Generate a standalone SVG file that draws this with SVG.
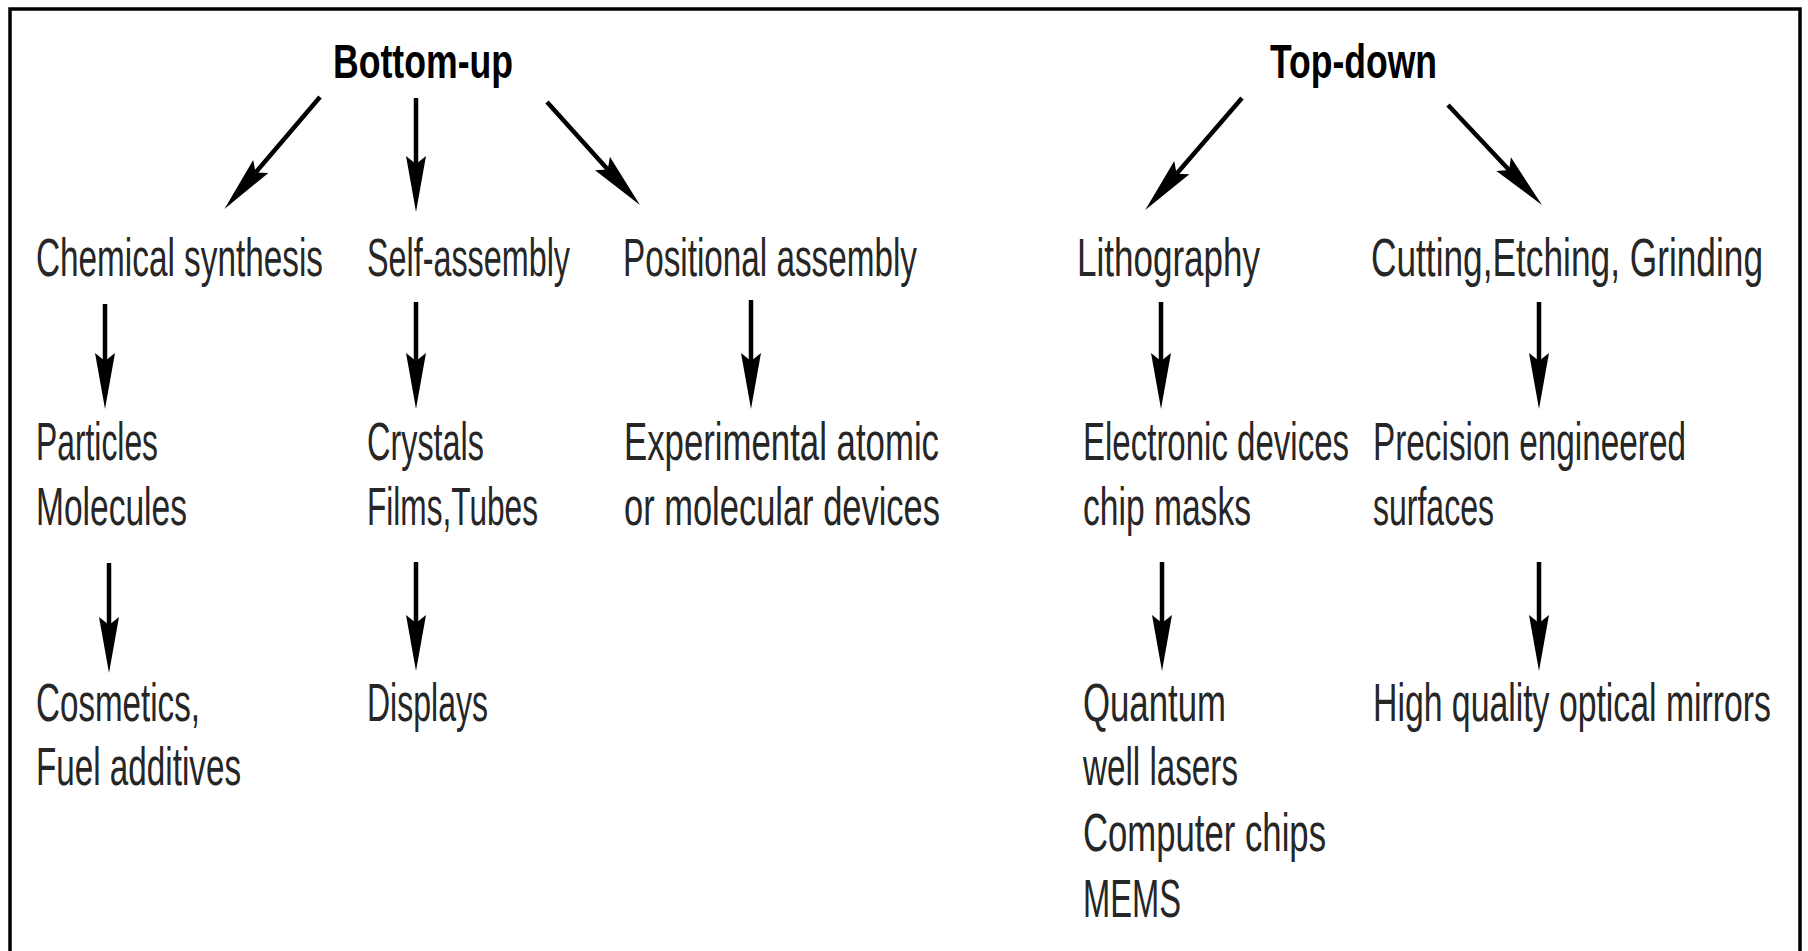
<svg xmlns="http://www.w3.org/2000/svg" width="1808" height="951" viewBox="0 0 1808 951">
<style>
  .t { font-family: "Liberation Sans", Arial, sans-serif; font-size: 53px; fill: #262626; }
  .h { font-family: "Liberation Sans", Arial, sans-serif; font-size: 48px; font-weight: bold; fill: #000; }
  .c { stroke: #000; stroke-width: 4.5; fill: none; marker-end: url(#ah); }
</style>
<defs>
  <marker id="ah" markerUnits="userSpaceOnUse" viewBox="-10 -11 60 22" refX="0" refY="0" markerWidth="60" markerHeight="22" orient="auto" overflow="visible">
    <path d="M48,0 L-8,-10 L0,0 L-8,10 Z" fill="#000"/>
  </marker>
</defs>
<rect width="1808" height="951" fill="#fff"/>
<path d="M10,951 V9 H1800 V951" fill="none" stroke="#000" stroke-width="3.5"/>

<g id="bottom-up"><text class="h" x="333" y="78" textLength="180" lengthAdjust="spacingAndGlyphs">Bottom-up</text></g>
<g id="top-down"><text class="h" x="1270" y="78" textLength="167" lengthAdjust="spacingAndGlyphs">Top-down</text></g>

<g id="chemical-synthesis"><text class="t" x="36" y="276" textLength="287" lengthAdjust="spacingAndGlyphs">Chemical synthesis</text></g>
<g id="self-assembly"><text class="t" x="367" y="276" textLength="203" lengthAdjust="spacingAndGlyphs">Self-assembly</text></g>
<g id="positional-assembly"><text class="t" x="623" y="276" textLength="294" lengthAdjust="spacingAndGlyphs">Positional assembly</text></g>
<g id="lithography"><text class="t" x="1077" y="276" textLength="183" lengthAdjust="spacingAndGlyphs">Lithography</text></g>
<g id="cutting"><text class="t" x="1371" y="276" textLength="392" lengthAdjust="spacingAndGlyphs">Cutting,Etching, Grinding</text></g>

<g id="particles">
  <text class="t" x="36" y="460" textLength="122" lengthAdjust="spacingAndGlyphs">Particles</text>
  <text class="t" x="36" y="525" textLength="151" lengthAdjust="spacingAndGlyphs">Molecules</text>
</g>
<g id="crystals">
  <text class="t" x="367" y="460" textLength="117" lengthAdjust="spacingAndGlyphs">Crystals</text>
  <text class="t" x="367" y="525" textLength="171" lengthAdjust="spacingAndGlyphs">Films,Tubes</text>
</g>
<g id="experimental">
  <text class="t" x="624" y="460" textLength="315" lengthAdjust="spacingAndGlyphs">Experimental atomic</text>
  <text class="t" x="624" y="525" textLength="316" lengthAdjust="spacingAndGlyphs">or molecular devices</text>
</g>
<g id="electronic">
  <text class="t" x="1083" y="460" textLength="266" lengthAdjust="spacingAndGlyphs">Electronic devices</text>
  <text class="t" x="1083" y="525" textLength="168" lengthAdjust="spacingAndGlyphs">chip masks</text>
</g>
<g id="precision">
  <text class="t" x="1373" y="460" textLength="313" lengthAdjust="spacingAndGlyphs">Precision engineered</text>
  <text class="t" x="1373" y="525" textLength="121" lengthAdjust="spacingAndGlyphs">surfaces</text>
</g>

<g id="cosmetics">
  <text class="t" x="36" y="721" textLength="164" lengthAdjust="spacingAndGlyphs">Cosmetics,</text>
  <text class="t" x="36" y="785" textLength="205" lengthAdjust="spacingAndGlyphs">Fuel additives</text>
</g>
<g id="displays"><text class="t" x="367" y="721" textLength="121" lengthAdjust="spacingAndGlyphs">Displays</text></g>
<g id="quantum">
  <text class="t" x="1083" y="721" textLength="143" lengthAdjust="spacingAndGlyphs">Quantum</text>
  <text class="t" x="1083" y="785" textLength="155" lengthAdjust="spacingAndGlyphs">well lasers</text>
  <text class="t" x="1083" y="851" textLength="243" lengthAdjust="spacingAndGlyphs">Computer chips</text>
  <text class="t" x="1083" y="917" textLength="98" lengthAdjust="spacingAndGlyphs">MEMS</text>
</g>
<g id="mirrors"><text class="t" x="1373" y="721" textLength="398" lengthAdjust="spacingAndGlyphs">High quality optical mirrors</text></g>

<g id="connectors">
  <path class="c" d="M320,97 L255.6,172.5"/>
  <path class="c" d="M416,98 L416,164"/>
  <path class="c" d="M547,102 L607.8,169.4"/>
  <path class="c" d="M1242,98 L1176.6,173.7"/>
  <path class="c" d="M1448,105 L1509.1,170"/>
  <path class="c" d="M105,304 L105,361"/>
  <path class="c" d="M416,302 L416,361"/>
  <path class="c" d="M751,300 L751,361"/>
  <path class="c" d="M1161,302 L1161,361"/>
  <path class="c" d="M1539,302 L1539,361"/>
  <path class="c" d="M109,563 L109,625"/>
  <path class="c" d="M416,562 L416,623"/>
  <path class="c" d="M1162,562 L1162,623"/>
  <path class="c" d="M1539,562 L1539,623"/>
</g>
</svg>
